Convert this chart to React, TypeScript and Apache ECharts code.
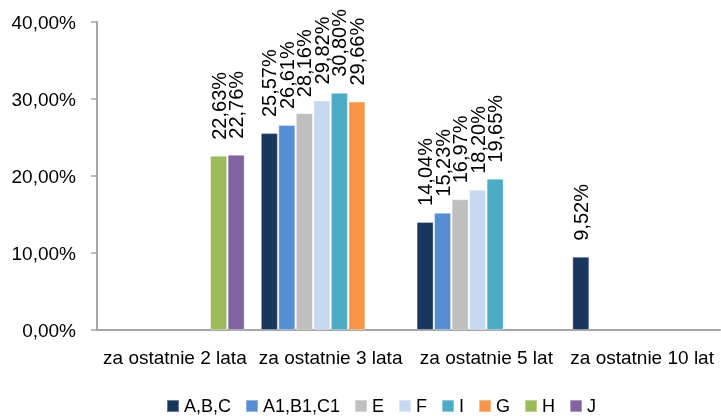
import React, { useEffect, useRef } from "react";
import * as echarts from "echarts";

const categories = ["za ostatnie 2 lata", "za ostatnie 3 lata", "za ostatnie 5 lat", "za ostatnie 10 lat"];
const seriesNames = ["A,B,C", "A1,B1,C1", "E", "F", "I", "G", "H", "J"];
const seriesColors = ["#17375E", "#558ED5", "#BFBFBF", "#C6D9F1", "#4BACC6", "#F79646", "#9BBB59", "#8064A2"];
const valuesABC = [null, 25.57, 14.04, 9.52];
const valuesA1B1C1 = [null, 26.61, 15.23, null];
const valuesE = [null, 28.16, 16.97, null];
const valuesF = [null, 29.82, 18.2, null];
const valuesI = [null, 30.8, 19.65, null];
const valuesG = [null, 29.66, null, null];
const valuesH = [22.63, null, null, null];
const valuesJ = [22.76, null, null, null];
const seriesValues = [valuesABC, valuesA1B1C1, valuesE, valuesF, valuesI, valuesG, valuesH, valuesJ];
const yTicks = { min: 0, max: 40, interval: 10 };

const FONT = "'Liberation Sans', Arial, sans-serif";
const fmt = (v: number) => v.toFixed(2).replace(".", ",") + "%";

export default function App() {
  const ref = useRef<HTMLDivElement>(null);
  useEffect(() => {
    if (!ref.current) return;
    const chart = echarts.init(ref.current, null, { renderer: "svg" });
    chart.setOption({
      animation: false,
      textStyle: { fontFamily: FONT },
      grid: { left: 97, right: 1, top: 22, bottom: 86 },
      legend: {
        bottom: 1,
        left: 166,
        padding: 0,
        itemWidth: 12,
        itemHeight: 12,
        itemGap: 14,
        icon: "rect",
        textStyle: { fontSize: 18, lineHeight: 18, color: "#000", fontFamily: FONT },
        data: seriesNames,
      },
      xAxis: {
        type: "category",
        data: categories,
        axisLine: { lineStyle: { color: "#A6A6A6", width: 2 } },
        axisTick: { show: false },
        axisLabel: { interval: 0, fontSize: 19, color: "#000", margin: 18, fontFamily: FONT },
      },
      yAxis: {
        type: "value",
        min: yTicks.min,
        max: yTicks.max,
        interval: yTicks.interval,
        splitLine: { show: false },
        axisLine: { show: true, lineStyle: { color: "#A6A6A6", width: 2 } },
        axisTick: { show: true, length: 6, lineStyle: { color: "#A6A6A6", width: 1.5 } },
        axisLabel: { fontSize: 19, color: "#000", margin: 21, formatter: (v: number) => fmt(v), fontFamily: FONT },
      },
      series: seriesNames.map((name, i) => ({
        name,
        type: "bar",
        data: seriesValues[i],
        barWidth: 17,
        barGap: "3%",
        itemStyle: { color: seriesColors[i], borderColor: "rgba(255,255,255,0.35)", borderWidth: 1 },
        label: {
          show: true,
          position: "top",
          rotate: 90,
          align: "left",
          verticalAlign: "middle",
          distance: 16,
          fontSize: 20,
          color: "#000",
          fontFamily: FONT,
          formatter: (p: any) => fmt(p.value),
        },
      })),
    });
    return () => chart.dispose();
  }, []);
  return <div ref={ref} style={{ position: "fixed", left: 0, top: 0, width: 721, height: 416 }} />;
}
